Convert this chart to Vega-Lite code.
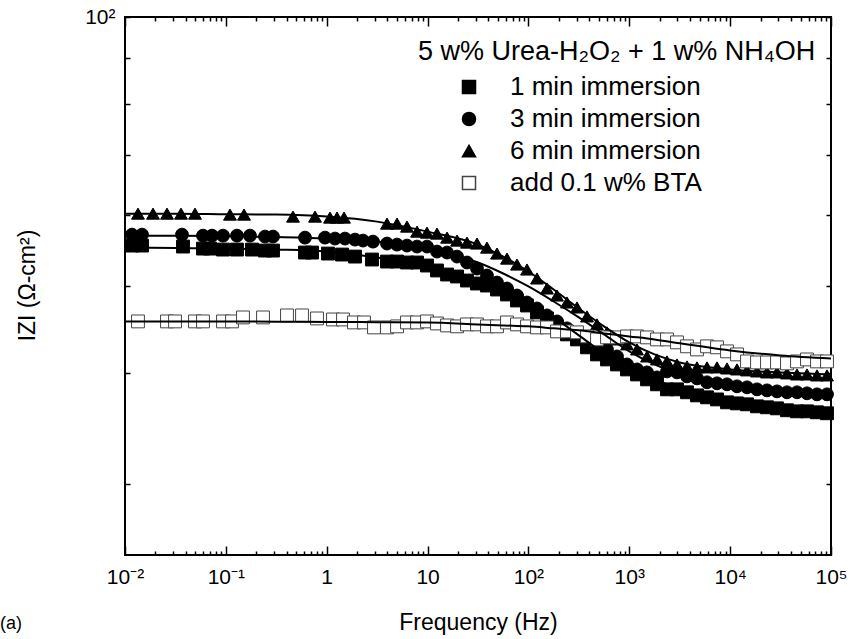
{
  "$schema": "https://vega.github.io/schema/vega-lite/v6.json",
  "width": 706,
  "height": 538,
  "autosize": "none",
  "padding": {"left": 125, "top": 17, "right": 19, "bottom": 84},
  "background": "white",
  "title": {"text": "(a)", "orient": "bottom", "anchor": "start", "frame": "group", "dx": -125, "offset": -19, "fontSize": 18, "fontWeight": "normal", "font": "Liberation Sans", "color": "black"},
  "config": {
    "font": "Liberation Sans",
    "view": {"stroke": "black", "strokeWidth": 2},
    "legend": {"titleFontSize": 27, "titleFontWeight": "normal", "titleColor": "black", "titleFont": "Liberation Sans", "labelFontSize": 26, "labelColor": "black", "labelFont": "Liberation Sans", "symbolSize": 170, "rowPadding": 6, "titlePadding": 8, "padding": 0, "symbolOffset": 38, "labelOffset": 28, "titleLimit": 600, "labelLimit": 400}
  },
  "datasets": {
    "pts": [
      {"s": "6 min immersion", "f": 0.01345, "z": 60.25},
      {"s": "6 min immersion", "f": 0.01896, "z": 60.25},
      {"s": "6 min immersion", "f": 0.02608, "z": 60.25},
      {"s": "6 min immersion", "f": 0.0359, "z": 60.25},
      {"s": "6 min immersion", "f": 0.04943, "z": 60.25},
      {"s": "6 min immersion", "f": 0.1099, "z": 60.1},
      {"s": "6 min immersion", "f": 0.1514, "z": 60.1},
      {"s": "6 min immersion", "f": 0.4631, "z": 59.79},
      {"s": "6 min immersion", "f": 0.7656, "z": 59.79},
      {"s": "6 min immersion", "f": 1.078, "z": 59.64},
      {"s": "6 min immersion", "f": 1.265, "z": 59.64},
      {"s": "6 min immersion", "f": 1.484, "z": 59.64},
      {"s": "6 min immersion", "f": 3.96, "z": 58.72},
      {"s": "6 min immersion", "f": 4.98, "z": 58.72},
      {"s": "6 min immersion", "f": 6.25, "z": 58.27},
      {"s": "6 min immersion", "f": 7.86, "z": 57.52},
      {"s": "6 min immersion", "f": 9.87, "z": 57.37},
      {"s": "6 min immersion", "f": 12.4, "z": 57.23},
      {"s": "6 min immersion", "f": 15.6, "z": 56.64},
      {"s": "6 min immersion", "f": 19.6, "z": 56.21},
      {"s": "6 min immersion", "f": 24.6, "z": 55.92},
      {"s": "6 min immersion", "f": 30.9, "z": 55.78},
      {"s": "6 min immersion", "f": 38.8, "z": 55.2},
      {"s": "6 min immersion", "f": 48.8, "z": 54.36},
      {"s": "6 min immersion", "f": 61.3, "z": 53.66},
      {"s": "6 min immersion", "f": 77.0, "z": 52.84},
      {"s": "6 min immersion", "f": 96.8, "z": 52.17},
      {"s": "6 min immersion", "f": 121.6, "z": 50.98},
      {"s": "6 min immersion", "f": 152.8, "z": 49.68},
      {"s": "6 min immersion", "f": 192.0, "z": 48.79},
      {"s": "6 min immersion", "f": 241.2, "z": 47.92},
      {"s": "6 min immersion", "f": 303.1, "z": 47.31},
      {"s": "6 min immersion", "f": 380.8, "z": 46.23},
      {"s": "6 min immersion", "f": 478.6, "z": 45.29},
      {"s": "6 min immersion", "f": 601.2, "z": 44.37},
      {"s": "6 min immersion", "f": 755.4, "z": 43.57},
      {"s": "6 min immersion", "f": 949.1, "z": 43.02},
      {"s": "6 min immersion", "f": 1193, "z": 42.46},
      {"s": "6 min immersion", "f": 1498, "z": 41.7},
      {"s": "6 min immersion", "f": 1883, "z": 41.38},
      {"s": "6 min immersion", "f": 2365, "z": 41.17},
      {"s": "6 min immersion", "f": 2972, "z": 40.85},
      {"s": "6 min immersion", "f": 3734, "z": 40.64},
      {"s": "6 min immersion", "f": 4692, "z": 40.54},
      {"s": "6 min immersion", "f": 5896, "z": 40.54},
      {"s": "6 min immersion", "f": 7408, "z": 40.54},
      {"s": "6 min immersion", "f": 9308, "z": 40.43},
      {"s": "6 min immersion", "f": 11695, "z": 40.33},
      {"s": "6 min immersion", "f": 14694, "z": 40.23},
      {"s": "6 min immersion", "f": 18464, "z": 40.12},
      {"s": "6 min immersion", "f": 23196, "z": 40.02},
      {"s": "6 min immersion", "f": 29146, "z": 40.02},
      {"s": "6 min immersion", "f": 36617, "z": 39.92},
      {"s": "6 min immersion", "f": 46013, "z": 39.81},
      {"s": "6 min immersion", "f": 57810, "z": 39.81},
      {"s": "6 min immersion", "f": 72646, "z": 39.71},
      {"s": "6 min immersion", "f": 91268, "z": 39.71},

      {"s": "3 min immersion", "f": 0.01173, "z": 57.08},
      {"s": "3 min immersion", "f": 0.01475, "z": 57.08},
      {"s": "3 min immersion", "f": 0.03673, "z": 57.08},
      {"s": "3 min immersion", "f": 0.05934, "z": 56.93},
      {"s": "3 min immersion", "f": 0.0729, "z": 56.93},
      {"s": "3 min immersion", "f": 0.0937, "z": 56.93},
      {"s": "3 min immersion", "f": 0.1289, "z": 56.93},
      {"s": "3 min immersion", "f": 0.1735, "z": 56.93},
      {"s": "3 min immersion", "f": 0.2444, "z": 56.79},
      {"s": "3 min immersion", "f": 0.2934, "z": 56.79},
      {"s": "3 min immersion", "f": 0.609, "z": 56.64},
      {"s": "3 min immersion", "f": 0.9616, "z": 56.64},
      {"s": "3 min immersion", "f": 1.208, "z": 56.5},
      {"s": "3 min immersion", "f": 1.518, "z": 56.5},
      {"s": "3 min immersion", "f": 1.908, "z": 56.35},
      {"s": "3 min immersion", "f": 2.29, "z": 56.21},
      {"s": "3 min immersion", "f": 2.877, "z": 56.06},
      {"s": "3 min immersion", "f": 3.96, "z": 55.78},
      {"s": "3 min immersion", "f": 4.98, "z": 55.63},
      {"s": "3 min immersion", "f": 6.25, "z": 55.49},
      {"s": "3 min immersion", "f": 7.86, "z": 55.35},
      {"s": "3 min immersion", "f": 9.87, "z": 55.35},
      {"s": "3 min immersion", "f": 12.4, "z": 54.64},
      {"s": "3 min immersion", "f": 15.6, "z": 54.5},
      {"s": "3 min immersion", "f": 19.6, "z": 53.94},
      {"s": "3 min immersion", "f": 24.6, "z": 53.12},
      {"s": "3 min immersion", "f": 30.9, "z": 52.3},
      {"s": "3 min immersion", "f": 38.8, "z": 51.37},
      {"s": "3 min immersion", "f": 48.8, "z": 50.45},
      {"s": "3 min immersion", "f": 61.3, "z": 49.68},
      {"s": "3 min immersion", "f": 77.0, "z": 48.79},
      {"s": "3 min immersion", "f": 96.8, "z": 47.92},
      {"s": "3 min immersion", "f": 121.6, "z": 47.19},
      {"s": "3 min immersion", "f": 152.8, "z": 46.35},
      {"s": "3 min immersion", "f": 192.0, "z": 45.64},
      {"s": "3 min immersion", "f": 241.2, "z": 44.83},
      {"s": "3 min immersion", "f": 303.1, "z": 44.14},
      {"s": "3 min immersion", "f": 380.8, "z": 43.57},
      {"s": "3 min immersion", "f": 478.6, "z": 43.02},
      {"s": "3 min immersion", "f": 601.2, "z": 42.46},
      {"s": "3 min immersion", "f": 755.4, "z": 41.7},
      {"s": "3 min immersion", "f": 949.1, "z": 40.85},
      {"s": "3 min immersion", "f": 1193, "z": 40.33},
      {"s": "3 min immersion", "f": 1498, "z": 40.02},
      {"s": "3 min immersion", "f": 1883, "z": 39.51},
      {"s": "3 min immersion", "f": 2365, "z": 40.12},
      {"s": "3 min immersion", "f": 2972, "z": 40.02},
      {"s": "3 min immersion", "f": 3734, "z": 39.61},
      {"s": "3 min immersion", "f": 4692, "z": 39.41},
      {"s": "3 min immersion", "f": 5896, "z": 39.01},
      {"s": "3 min immersion", "f": 7408, "z": 38.91},
      {"s": "3 min immersion", "f": 9308, "z": 38.81},
      {"s": "3 min immersion", "f": 11695, "z": 38.61},
      {"s": "3 min immersion", "f": 14694, "z": 38.51},
      {"s": "3 min immersion", "f": 18464, "z": 38.31},
      {"s": "3 min immersion", "f": 23196, "z": 38.21},
      {"s": "3 min immersion", "f": 29146, "z": 38.11},
      {"s": "3 min immersion", "f": 36617, "z": 38.02},
      {"s": "3 min immersion", "f": 46013, "z": 38.02},
      {"s": "3 min immersion", "f": 57810, "z": 37.92},
      {"s": "3 min immersion", "f": 72646, "z": 37.82},
      {"s": "3 min immersion", "f": 91268, "z": 37.82},

      {"s": "1 min immersion", "f": 0.01173, "z": 55.49},
      {"s": "1 min immersion", "f": 0.01475, "z": 55.49},
      {"s": "1 min immersion", "f": 0.03758, "z": 55.35},
      {"s": "1 min immersion", "f": 0.05934, "z": 55.06},
      {"s": "1 min immersion", "f": 0.06966, "z": 55.06},
      {"s": "1 min immersion", "f": 0.0937, "z": 54.92},
      {"s": "1 min immersion", "f": 0.1289, "z": 54.92},
      {"s": "1 min immersion", "f": 0.1816, "z": 54.92},
      {"s": "1 min immersion", "f": 0.2444, "z": 54.78},
      {"s": "1 min immersion", "f": 0.2934, "z": 54.78},
      {"s": "1 min immersion", "f": 0.609, "z": 54.5},
      {"s": "1 min immersion", "f": 0.7147, "z": 54.5},
      {"s": "1 min immersion", "f": 1.03, "z": 54.36},
      {"s": "1 min immersion", "f": 1.418, "z": 54.22},
      {"s": "1 min immersion", "f": 1.908, "z": 53.94},
      {"s": "1 min immersion", "f": 2.812, "z": 53.53},
      {"s": "1 min immersion", "f": 3.96, "z": 53.25},
      {"s": "1 min immersion", "f": 4.98, "z": 53.25},
      {"s": "1 min immersion", "f": 6.25, "z": 53.12},
      {"s": "1 min immersion", "f": 7.86, "z": 53.12},
      {"s": "1 min immersion", "f": 9.87, "z": 52.71},
      {"s": "1 min immersion", "f": 12.4, "z": 52.04},
      {"s": "1 min immersion", "f": 15.6, "z": 51.5},
      {"s": "1 min immersion", "f": 19.6, "z": 51.24},
      {"s": "1 min immersion", "f": 24.6, "z": 50.71},
      {"s": "1 min immersion", "f": 30.9, "z": 50.32},
      {"s": "1 min immersion", "f": 38.8, "z": 50.06},
      {"s": "1 min immersion", "f": 48.8, "z": 49.55},
      {"s": "1 min immersion", "f": 61.3, "z": 48.92},
      {"s": "1 min immersion", "f": 77.0, "z": 48.17},
      {"s": "1 min immersion", "f": 96.8, "z": 47.55},
      {"s": "1 min immersion", "f": 121.6, "z": 46.71},
      {"s": "1 min immersion", "f": 152.8, "z": 45.99},
      {"s": "1 min immersion", "f": 192.0, "z": 45.06},
      {"s": "1 min immersion", "f": 241.2, "z": 44.14},
      {"s": "1 min immersion", "f": 303.1, "z": 43.57},
      {"s": "1 min immersion", "f": 380.8, "z": 42.69},
      {"s": "1 min immersion", "f": 478.6, "z": 41.92},
      {"s": "1 min immersion", "f": 601.2, "z": 41.38},
      {"s": "1 min immersion", "f": 755.4, "z": 40.85},
      {"s": "1 min immersion", "f": 949.1, "z": 40.33},
      {"s": "1 min immersion", "f": 1193, "z": 39.81},
      {"s": "1 min immersion", "f": 1498, "z": 39.31},
      {"s": "1 min immersion", "f": 1883, "z": 38.81},
      {"s": "1 min immersion", "f": 2365, "z": 38.31},
      {"s": "1 min immersion", "f": 2972, "z": 38.31},
      {"s": "1 min immersion", "f": 3734, "z": 38.02},
      {"s": "1 min immersion", "f": 4692, "z": 37.72},
      {"s": "1 min immersion", "f": 5896, "z": 37.53},
      {"s": "1 min immersion", "f": 7408, "z": 37.33},
      {"s": "1 min immersion", "f": 9308, "z": 37.05},
      {"s": "1 min immersion", "f": 11695, "z": 36.95},
      {"s": "1 min immersion", "f": 14694, "z": 36.86},
      {"s": "1 min immersion", "f": 18464, "z": 36.67},
      {"s": "1 min immersion", "f": 23196, "z": 36.58},
      {"s": "1 min immersion", "f": 29146, "z": 36.48},
      {"s": "1 min immersion", "f": 36617, "z": 36.3},
      {"s": "1 min immersion", "f": 46013, "z": 36.2},
      {"s": "1 min immersion", "f": 57810, "z": 36.2},
      {"s": "1 min immersion", "f": 72646, "z": 36.11},
      {"s": "1 min immersion", "f": 91268, "z": 36.02},

      {"s": "add 0.1 w% BTA", "f": 0.01345, "z": 45.64},
      {"s": "add 0.1 w% BTA", "f": 0.02608, "z": 45.64},
      {"s": "add 0.1 w% BTA", "f": 0.03133, "z": 45.64},
      {"s": "add 0.1 w% BTA", "f": 0.04943, "z": 45.64},
      {"s": "add 0.1 w% BTA", "f": 0.05934, "z": 45.64},
      {"s": "add 0.1 w% BTA", "f": 0.0937, "z": 45.64},
      {"s": "add 0.1 w% BTA", "f": 0.1151, "z": 45.64},
      {"s": "add 0.1 w% BTA", "f": 0.1479, "z": 46.11},
      {"s": "add 0.1 w% BTA", "f": 0.2335, "z": 46.11},
      {"s": "add 0.1 w% BTA", "f": 0.4038, "z": 46.35},
      {"s": "add 0.1 w% BTA", "f": 0.5689, "z": 46.35},
      {"s": "add 0.1 w% BTA", "f": 0.8012, "z": 45.99},
      {"s": "add 0.1 w% BTA", "f": 1.154, "z": 45.87},
      {"s": "add 0.1 w% BTA", "f": 1.451, "z": 45.87},
      {"s": "add 0.1 w% BTA", "f": 1.864, "z": 45.52},
      {"s": "add 0.1 w% BTA", "f": 2.343, "z": 45.52},
      {"s": "add 0.1 w% BTA", "f": 2.943, "z": 44.94},
      {"s": "add 0.1 w% BTA", "f": 3.96, "z": 44.94},
      {"s": "add 0.1 w% BTA", "f": 4.98, "z": 45.06},
      {"s": "add 0.1 w% BTA", "f": 6.25, "z": 45.52},
      {"s": "add 0.1 w% BTA", "f": 7.86, "z": 45.52},
      {"s": "add 0.1 w% BTA", "f": 9.87, "z": 45.64},
      {"s": "add 0.1 w% BTA", "f": 12.4, "z": 45.4},
      {"s": "add 0.1 w% BTA", "f": 15.6, "z": 45.17},
      {"s": "add 0.1 w% BTA", "f": 19.6, "z": 45.06},
      {"s": "add 0.1 w% BTA", "f": 24.6, "z": 45.29},
      {"s": "add 0.1 w% BTA", "f": 30.9, "z": 45.29},
      {"s": "add 0.1 w% BTA", "f": 38.8, "z": 45.06},
      {"s": "add 0.1 w% BTA", "f": 48.8, "z": 45.06},
      {"s": "add 0.1 w% BTA", "f": 61.3, "z": 45.52},
      {"s": "add 0.1 w% BTA", "f": 77.0, "z": 45.29},
      {"s": "add 0.1 w% BTA", "f": 96.8, "z": 45.06},
      {"s": "add 0.1 w% BTA", "f": 121.6, "z": 44.94},
      {"s": "add 0.1 w% BTA", "f": 152.8, "z": 44.94},
      {"s": "add 0.1 w% BTA", "f": 192.0, "z": 44.48},
      {"s": "add 0.1 w% BTA", "f": 241.2, "z": 44.48},
      {"s": "add 0.1 w% BTA", "f": 303.1, "z": 44.37},
      {"s": "add 0.1 w% BTA", "f": 380.8, "z": 43.91},
      {"s": "add 0.1 w% BTA", "f": 478.6, "z": 43.57},
      {"s": "add 0.1 w% BTA", "f": 601.2, "z": 43.8},
      {"s": "add 0.1 w% BTA", "f": 755.4, "z": 43.8},
      {"s": "add 0.1 w% BTA", "f": 949.1, "z": 43.91},
      {"s": "add 0.1 w% BTA", "f": 1193, "z": 43.91},
      {"s": "add 0.1 w% BTA", "f": 1498, "z": 43.8},
      {"s": "add 0.1 w% BTA", "f": 1883, "z": 43.57},
      {"s": "add 0.1 w% BTA", "f": 2365, "z": 43.57},
      {"s": "add 0.1 w% BTA", "f": 2972, "z": 43.24},
      {"s": "add 0.1 w% BTA", "f": 3734, "z": 42.8},
      {"s": "add 0.1 w% BTA", "f": 4692, "z": 42.46},
      {"s": "add 0.1 w% BTA", "f": 5896, "z": 42.8},
      {"s": "add 0.1 w% BTA", "f": 7408, "z": 42.69},
      {"s": "add 0.1 w% BTA", "f": 9308, "z": 42.25},
      {"s": "add 0.1 w% BTA", "f": 11695, "z": 41.92},
      {"s": "add 0.1 w% BTA", "f": 14694, "z": 41.17},
      {"s": "add 0.1 w% BTA", "f": 18464, "z": 41.06},
      {"s": "add 0.1 w% BTA", "f": 23196, "z": 41.06},
      {"s": "add 0.1 w% BTA", "f": 29146, "z": 41.06},
      {"s": "add 0.1 w% BTA", "f": 36617, "z": 40.96},
      {"s": "add 0.1 w% BTA", "f": 46013, "z": 41.17},
      {"s": "add 0.1 w% BTA", "f": 57810, "z": 41.38},
      {"s": "add 0.1 w% BTA", "f": 72646, "z": 41.17},
      {"s": "add 0.1 w% BTA", "f": 91268, "z": 41.17}
    ],
    "fit": [
      {"s": "6 min immersion", "f": 0.01, "z": 60.25},
      {"s": "6 min immersion", "f": 0.0316, "z": 60.25},
      {"s": "6 min immersion", "f": 0.1, "z": 60.17},
      {"s": "6 min immersion", "f": 0.316, "z": 60.1},
      {"s": "6 min immersion", "f": 1, "z": 59.79},
      {"s": "6 min immersion", "f": 3.16, "z": 59.02},
      {"s": "6 min immersion", "f": 10, "z": 57.52},
      {"s": "6 min immersion", "f": 31.6, "z": 55.63},
      {"s": "6 min immersion", "f": 56.2, "z": 53.94},
      {"s": "6 min immersion", "f": 100, "z": 51.9},
      {"s": "6 min immersion", "f": 178, "z": 49.55},
      {"s": "6 min immersion", "f": 316, "z": 47.19},
      {"s": "6 min immersion", "f": 562, "z": 45.06},
      {"s": "6 min immersion", "f": 1000, "z": 43.24},
      {"s": "6 min immersion", "f": 1778, "z": 41.92},
      {"s": "6 min immersion", "f": 3162, "z": 41.06},
      {"s": "6 min immersion", "f": 10000, "z": 40.33},
      {"s": "6 min immersion", "f": 31623, "z": 40.02},
      {"s": "6 min immersion", "f": 100000, "z": 39.81},
      {"s": "3 min immersion", "f": 0.01, "z": 56.93},
      {"s": "3 min immersion", "f": 0.0316, "z": 56.93},
      {"s": "3 min immersion", "f": 0.1, "z": 56.86},
      {"s": "3 min immersion", "f": 0.316, "z": 56.72},
      {"s": "3 min immersion", "f": 1, "z": 56.5},
      {"s": "3 min immersion", "f": 3.16, "z": 56.06},
      {"s": "3 min immersion", "f": 10, "z": 55.06},
      {"s": "3 min immersion", "f": 31.6, "z": 53.12},
      {"s": "3 min immersion", "f": 56.2, "z": 51.64},
      {"s": "3 min immersion", "f": 100, "z": 49.94},
      {"s": "3 min immersion", "f": 178, "z": 48.04},
      {"s": "3 min immersion", "f": 316, "z": 46.11},
      {"s": "3 min immersion", "f": 562, "z": 44.14},
      {"s": "3 min immersion", "f": 1000, "z": 42.25},
      {"s": "3 min immersion", "f": 1778, "z": 40.85},
      {"s": "3 min immersion", "f": 3162, "z": 39.81},
      {"s": "3 min immersion", "f": 10000, "z": 38.71},
      {"s": "3 min immersion", "f": 31623, "z": 38.21},
      {"s": "3 min immersion", "f": 100000, "z": 37.92},
      {"s": "1 min immersion", "f": 0.01, "z": 55.2},
      {"s": "1 min immersion", "f": 0.0316, "z": 55.13},
      {"s": "1 min immersion", "f": 0.1, "z": 55.06},
      {"s": "1 min immersion", "f": 0.316, "z": 54.92},
      {"s": "1 min immersion", "f": 1, "z": 54.64},
      {"s": "1 min immersion", "f": 3.16, "z": 53.8},
      {"s": "1 min immersion", "f": 10, "z": 52.57},
      {"s": "1 min immersion", "f": 31.6, "z": 50.71},
      {"s": "1 min immersion", "f": 56.2, "z": 49.42},
      {"s": "1 min immersion", "f": 100, "z": 47.92},
      {"s": "1 min immersion", "f": 178, "z": 46.11},
      {"s": "1 min immersion", "f": 316, "z": 44.03},
      {"s": "1 min immersion", "f": 562, "z": 42.03},
      {"s": "1 min immersion", "f": 1000, "z": 40.54},
      {"s": "1 min immersion", "f": 1778, "z": 39.31},
      {"s": "1 min immersion", "f": 3162, "z": 38.41},
      {"s": "1 min immersion", "f": 10000, "z": 37.33},
      {"s": "1 min immersion", "f": 31623, "z": 36.67},
      {"s": "1 min immersion", "f": 100000, "z": 36.2},
      {"s": "add 0.1 w% BTA", "f": 0.01, "z": 45.64},
      {"s": "add 0.1 w% BTA", "f": 0.0316, "z": 45.64},
      {"s": "add 0.1 w% BTA", "f": 0.1, "z": 45.64},
      {"s": "add 0.1 w% BTA", "f": 0.316, "z": 45.6},
      {"s": "add 0.1 w% BTA", "f": 1, "z": 45.58},
      {"s": "add 0.1 w% BTA", "f": 3.16, "z": 45.55},
      {"s": "add 0.1 w% BTA", "f": 10, "z": 45.52},
      {"s": "add 0.1 w% BTA", "f": 31.6, "z": 45.29},
      {"s": "add 0.1 w% BTA", "f": 56.2, "z": 45.17},
      {"s": "add 0.1 w% BTA", "f": 100, "z": 45.06},
      {"s": "add 0.1 w% BTA", "f": 178, "z": 44.83},
      {"s": "add 0.1 w% BTA", "f": 316, "z": 44.6},
      {"s": "add 0.1 w% BTA", "f": 562, "z": 44.25},
      {"s": "add 0.1 w% BTA", "f": 1000, "z": 43.91},
      {"s": "add 0.1 w% BTA", "f": 1778, "z": 43.57},
      {"s": "add 0.1 w% BTA", "f": 3162, "z": 43.13},
      {"s": "add 0.1 w% BTA", "f": 10000, "z": 42.35},
      {"s": "add 0.1 w% BTA", "f": 31623, "z": 41.81},
      {"s": "add 0.1 w% BTA", "f": 100000, "z": 41.49}
    ]
  },
  "layer": [
    {
      "data": {"name": "pts"},
      "mark": {"type": "point", "filled": true, "size": 165, "strokeWidth": 1, "opacity": 1},
      "encoding": {
        "x": {
          "field": "f", "type": "quantitative",
          "scale": {"type": "log", "domain": [0.01, 100000], "nice": false},
          "axis": {
            "orient": "bottom",
            "values": [0.01,0.02,0.03,0.04,0.05,0.06,0.07,0.08,0.09,0.1,0.2,0.3,0.4,0.5,0.6,0.7,0.8,0.9,1,2,3,4,5,6,7,8,9,10,20,30,40,50,60,70,80,90,100,200,300,400,500,600,700,800,900,1000,2000,3000,4000,5000,6000,7000,8000,9000,10000,20000,30000,40000,50000,60000,70000,80000,90000,100000],
            "labelExpr": "datum.value==0.01?'10⁻²':datum.value==0.1?'10⁻¹':datum.value==1?'1':datum.value==10?'10':datum.value==100?'10²':datum.value==1000?'10³':datum.value==10000?'10⁴':datum.value==100000?'10⁵':''",
            "labelFontSize": 21, "labelColor": "black", "labelPadding": 20,
            "labelOverlap": false, "labelFlush": false, "labelBound": false,
            "tickColor": "black", "tickWidth": 1.5,
            "tickSize": {"condition": {"test": "indexof([0.01,0.1,1,10,100,1000,10000,100000], datum.value) >= 0", "value": -9}, "value": -4},
            "domain": false, "grid": false,
            "title": "Frequency (Hz)", "titleFontSize": 23, "titleFontWeight": "normal", "titleColor": "black", "titlePadding": 19
          }
        },
        "y": {
          "field": "z", "type": "quantitative",
          "scale": {"type": "log", "domain": [25, 100], "nice": false},
          "axis": {
            "orient": "left",
            "values": [30, 40, 50, 60, 70, 80, 90, 100],
            "labelExpr": "datum.value==100?'10²':''",
            "labelFontSize": 21, "labelColor": "black", "labelPadding": 15,
            "labelOverlap": false, "labelFlush": false, "labelBound": false,
            "tickColor": "black", "tickWidth": 1.5, "tickSize": -5,
            "domain": false, "grid": false,
            "title": "IZI (Ω-cm²)", "titleFontSize": 23, "titleFontWeight": "normal", "titleColor": "black",
            "titleX": -86, "titleY": 268
          }
        },
        "shape": {
          "field": "s", "type": "nominal",
          "scale": {"domain": ["1 min immersion", "3 min immersion", "6 min immersion", "add 0.1 w% BTA"], "range": ["square", "circle", "triangle-up", "square"]},
          "legend": {"orient": "none", "legendX": 293, "legendY": 22, "title": "5 w% Urea-H₂O₂ + 1 w% NH₄OH"}
        },
        "fill": {
          "field": "s", "type": "nominal",
          "scale": {"domain": ["1 min immersion", "3 min immersion", "6 min immersion", "add 0.1 w% BTA"], "range": ["black", "black", "black", "white"]},
          "legend": {"orient": "none", "legendX": 293, "legendY": 22, "title": "5 w% Urea-H₂O₂ + 1 w% NH₄OH"}
        },
        "stroke": {
          "field": "s", "type": "nominal",
          "scale": {"domain": ["1 min immersion", "3 min immersion", "6 min immersion", "add 0.1 w% BTA"], "range": ["black", "black", "black", "#444444"]},
          "legend": {"orient": "none", "legendX": 293, "legendY": 22, "title": "5 w% Urea-H₂O₂ + 1 w% NH₄OH"}
        }
      }
    },
    {
      "data": {"name": "fit"},
      "mark": {"type": "line", "color": "black", "strokeWidth": 2, "interpolate": "monotone"},
      "encoding": {
        "x": {
          "field": "f", "type": "quantitative",
          "axis": {
            "orient": "top",
            "values": [0.01,0.02,0.03,0.04,0.05,0.06,0.07,0.08,0.09,0.1,0.2,0.3,0.4,0.5,0.6,0.7,0.8,0.9,1,2,3,4,5,6,7,8,9,10,20,30,40,50,60,70,80,90,100,200,300,400,500,600,700,800,900,1000,2000,3000,4000,5000,6000,7000,8000,9000,10000,20000,30000,40000,50000,60000,70000,80000,90000,100000],
            "labels": false, "title": null, "domain": false, "grid": false,
            "tickColor": "black", "tickWidth": 1.5,
            "tickSize": {"condition": {"test": "indexof([0.01,0.1,1,10,100,1000,10000,100000], datum.value) >= 0", "value": -9}, "value": -4}
          }
        },
        "y": {
          "field": "z", "type": "quantitative",
          "axis": {
            "orient": "right",
            "values": [30, 40, 50, 60, 70, 80, 90, 100],
            "labels": false, "title": null, "domain": false, "grid": false,
            "tickColor": "black", "tickWidth": 1.5, "tickSize": -5
          }
        },
        "detail": {"field": "s", "type": "nominal"}
      }
    }
  ],
  "resolve": {"axis": {"x": "independent", "y": "independent"}}
}
